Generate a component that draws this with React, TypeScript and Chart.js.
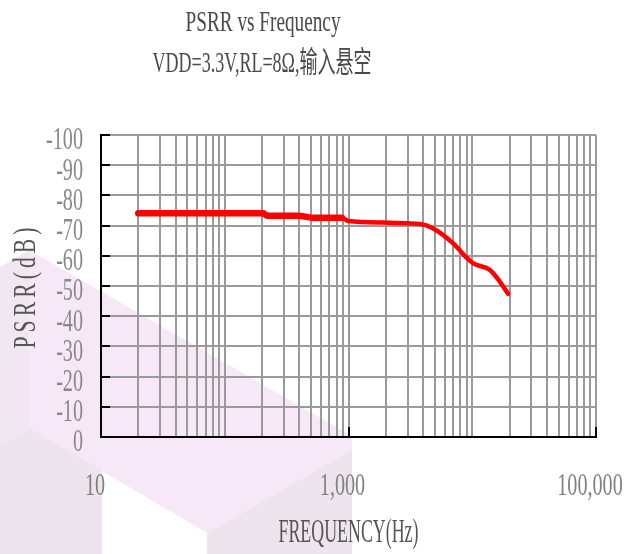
import React, { useEffect, useRef } from 'react';
import { Chart, registerables } from 'chart.js';

Chart.register(...registerables);

// ---- texts ----
const TITLE = 'PSRR vs Frequency';
const SUBTITLE = 'VDD=3.3V,RL=8Ω,输入悬空';
const X_TITLE = 'FREQUENCY(Hz)';
const Y_TITLE = 'PSRR(dB)';

// ---- data ----
const FREQ_HZ = [20, 205, 218, 390, 510, 880, 1000, 1900, 3800, 4800, 7000, 9100, 10200, 13900, 15900, 19500];
const PSRR_DB = [74.1, 74.1, 73.3, 73.3, 72.6, 72.6, 71.5, 71.0, 70.5, 69.1, 64.1, 59.2, 57.5, 55.3, 52.6, 47.4];

// ---- axes ----
const X_MIN = 10;
const X_MAX = 100000;
const X_TICK_VALUES = [10, 1000, 100000];
const X_TICK_LABELS = ['10', '1,000', '100,000'];
const Y_TICK_VALUES = [0, 10, 20, 30, 40, 50, 60, 70, 80, 90, 100];
const Y_TICK_LABELS = ['0', '-10', '-20', '-30', '-40', '-50', '-60', '-70', '-80', '-90', '-100'];
const DECADE_MULTIPLIERS = [1, 2, 3, 4, 5, 6, 7, 8, 9];
const DECADES = [10, 100, 1000, 10000];

const SERIF = '"Liberation Serif", "Noto Sans CJK SC", serif';
const GRID = '#9a9a9a';

// text condensing (the reference uses a tall, narrow face)
const TEXT_FIT: Record<string, { width?: number; spacing?: string }> = {
  [TITLE]: { width: 155 },
  [SUBTITLE]: { width: 219 },
  [X_TITLE]: { width: 140 },
  [Y_TITLE]: { width: 125, spacing: '6px' },
};
const DEFAULT_SX = 0.63;

// faint watermark shapes in the background
const WATERMARK: { color: string; pts: number[][] }[] = [
  { color: '#f1e7f1', pts: [[0, 267], [29, 250], [29, 428], [0, 445]] },
  { color: '#f6e8f6', pts: [[29, 250], [352, 436], [352, 450], [207, 533], [29, 428]] },
  { color: '#ede4ed', pts: [[0, 445], [29, 428], [102, 470], [102, 554], [0, 554]] },
  { color: '#ede4ed', pts: [[207, 533], [352, 450], [352, 554], [207, 554]] },
];

const condensePlugin = {
  id: 'condense',
  beforeInit(chart: any) {
    const ctx = chart.ctx as any;
    if (ctx.__condensed) return;
    const orig = ctx.fillText;
    ctx.fillText = function (text: any, x: number, y: number) {
      const s = String(text);
      const fit = TEXT_FIT[s];
      this.save();
      if (fit && fit.spacing) this.letterSpacing = fit.spacing;
      let sx = DEFAULT_SX;
      if (fit && fit.width) {
        const w = this.measureText(s).width;
        if (w > 0) sx = fit.width / w;
      }
      this.translate(x, y);
      this.scale(sx, 1);
      orig.call(this, text, 0, 0);
      this.restore();
    };
    ctx.__condensed = true;
  },
};

const watermarkPlugin = {
  id: 'watermark',
  beforeDraw(chart: any) {
    const ctx = chart.ctx;
    ctx.save();
    ctx.fillStyle = '#ffffff';
    ctx.fillRect(0, 0, chart.width, chart.height);
    WATERMARK.forEach((w) => {
      ctx.beginPath();
      w.pts.forEach((p, i) => (i === 0 ? ctx.moveTo(p[0], p[1]) : ctx.lineTo(p[0], p[1])));
      ctx.closePath();
      ctx.fillStyle = w.color;
      ctx.fill();
    });
    ctx.restore();
  },
};

const innerTicksPlugin = {
  id: 'innerTicks',
  beforeDatasetsDraw(chart: any) {
    const { ctx, chartArea, scales } = chart;
    ctx.save();
    ctx.strokeStyle = '#000';
    ctx.lineWidth = 2;
    ctx.beginPath();
    Y_TICK_VALUES.forEach((v) => {
      const py = Math.round(scales.y.getPixelForValue(v));
      ctx.moveTo(chartArea.left, py);
      ctx.lineTo(chartArea.left + 9, py);
    });
    X_TICK_VALUES.slice(1).forEach((v) => {
      const px = Math.round(scales.x.getPixelForValue(v));
      ctx.moveTo(px, chartArea.bottom);
      ctx.lineTo(px, chartArea.bottom - 10);
    });
    ctx.stroke();
    ctx.restore();
  },
};

const headerPlugin = {
  id: 'header',
  afterDraw(chart: any) {
    const ctx = chart.ctx;
    ctx.save();
    ctx.font = `30px ${SERIF}`;
    ctx.fillStyle = '#4a4a4a';
    ctx.textAlign = 'center';
    ctx.textBaseline = 'alphabetic';
    ctx.fillText(TITLE, 263, 31);
    ctx.fillText(SUBTITLE, 262, 72);
    ctx.restore();
  },
};

export default function App() {
  const canvasRef = useRef<HTMLCanvasElement | null>(null);

  useEffect(() => {
    if (!canvasRef.current) return;
    const xGrid: number[] = [];
    DECADES.forEach((d) => DECADE_MULTIPLIERS.forEach((m) => xGrid.push(m * d)));
    xGrid.push(X_MAX);

    const chart = new Chart(canvasRef.current, {
      type: 'line',
      data: {
        datasets: [
          {
            data: FREQ_HZ.map((f, i) => ({ x: f, y: PSRR_DB[i] })),
            borderColor: '#ff0000',
            backgroundColor: '#ff0000',
            borderWidth: 4.5,
            pointRadius: 0,
            cubicInterpolationMode: 'monotone',
            borderCapStyle: 'round',
            borderJoinStyle: 'round',
            segment: {
              borderWidth: (c: any) => (c.p0.parsed.x < 880 ? 6.5 : 4.5),
            },
          } as any,
        ],
      },
      options: {
        animation: false,
        responsive: false,
        maintainAspectRatio: false,
        layout: { padding: { top: 135, right: 43, bottom: 0, left: 0 } },
        plugins: {
          legend: { display: false },
          title: { display: false },
          tooltip: { enabled: false },
        },
        scales: {
          x: {
            type: 'logarithmic',
            min: X_MIN,
            max: X_MAX,
            afterBuildTicks: (s: any) => {
              s.ticks = xGrid.map((v) => ({ value: v }));
            },
            afterFit: (s: any) => {
              s.height = 117;
              s.paddingLeft = 0;
              s.paddingRight = 0;
            },
            grid: { color: GRID, lineWidth: 2, drawTicks: false },
            border: { color: '#000', width: 2 },
            ticks: {
              autoSkip: false,
              maxRotation: 0,
              minRotation: 0,
              padding: 30,
              labelOffset: -6,
              color: '#808080',
              font: { family: SERIF, size: 32 },
              callback: (v: any) => {
                const i = X_TICK_VALUES.indexOf(Number(v));
                return i >= 0 ? X_TICK_LABELS[i] : '';
              },
            },
            title: {
              display: true,
              text: X_TITLE,
              color: '#555',
              font: { family: SERIF, size: 34 },
              padding: { top: 0, bottom: 1 },
            },
          },
          y: {
            type: 'linear',
            min: 0,
            max: 100,
            afterBuildTicks: (s: any) => {
              s.ticks = Y_TICK_VALUES.map((v) => ({ value: v }));
            },
            afterFit: (s: any) => {
              s.width = 101;
              s.paddingTop = 0;
              s.paddingBottom = 0;
            },
            grid: { color: GRID, lineWidth: 2, drawTicks: false },
            border: { color: '#000', width: 2 },
            ticks: {
              autoSkip: false,
              padding: 18,
              labelOffset: 6,
              color: '#888',
              font: { family: SERIF, size: 32 },
              callback: (v: any) => {
                const i = Y_TICK_VALUES.indexOf(Number(v));
                return i >= 0 ? Y_TICK_LABELS[i] : '';
              },
            },
            title: {
              display: true,
              text: Y_TITLE,
              color: '#555',
              font: { family: SERIF, size: 32 },
              padding: { top: 7, bottom: 0 },
            },
          },
        },
      },
      plugins: [condensePlugin, watermarkPlugin, innerTicksPlugin, headerPlugin],
    });
    return () => chart.destroy();
  }, []);

  return (
    <div style={{ position: 'fixed', left: 0, top: 0, width: 639, height: 554 }}>
      <canvas ref={canvasRef} width={639} height={554} style={{ display: 'block', width: 639, height: 554 }} />
    </div>
  );
}
